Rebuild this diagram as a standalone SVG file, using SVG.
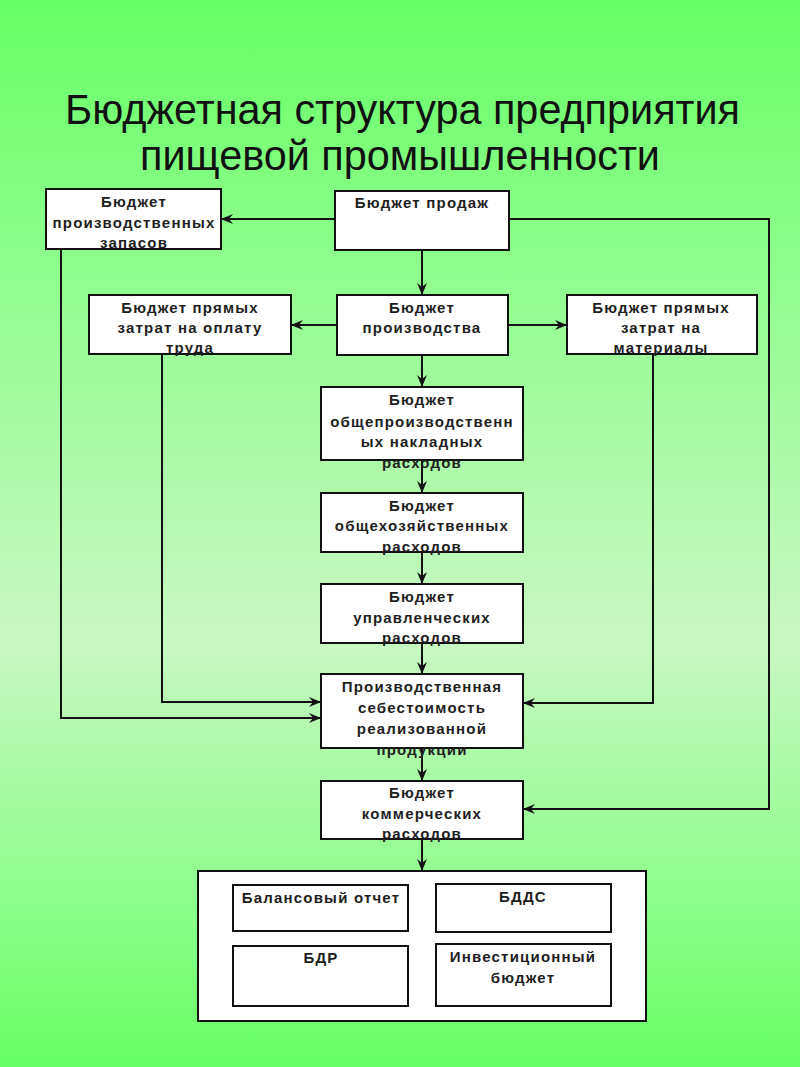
<svg xmlns="http://www.w3.org/2000/svg" width="800" height="1067" viewBox="0 0 800 1067">
  <defs>
    <linearGradient id="bg" x1="0" y1="0" x2="0" y2="1">
      <stop offset="0" stop-color="#66ff66"/>
      <stop offset="0.6" stop-color="#c8f8c2"/>
      <stop offset="1" stop-color="#66ff66"/>
    </linearGradient>
    <marker id="arr" viewBox="0 0 12 10" refX="12" refY="5" markerWidth="12" markerHeight="10" orient="auto" markerUnits="userSpaceOnUse">
      <path d="M0,0 L12,5 L0,10 L4,5 z" fill="#111"/>
    </marker>
  </defs>
  <style>
    .box { fill: #ffffff; stroke: #111111; stroke-width: 2; }
    .lbl { font-family: "Liberation Sans", Arial, sans-serif; font-size: 15px; font-weight: bold; fill: #1e1e1e; text-anchor: middle; letter-spacing: 1.2px; }
    .title { font-family: "Liberation Sans Narrow", "Liberation Sans", Arial, sans-serif; font-size: 42px; fill: #111111; }
    .con { fill: none; stroke: #111111; stroke-width: 2; }
    .arr { marker-end: url(#arr); }
  </style>

  <rect x="0" y="0" width="800" height="1067" fill="url(#bg)"/>

  <g id="title">
    <text class="title" x="65" y="124" textLength="675" lengthAdjust="spacingAndGlyphs">Бюджетная структура предприятия</text>
    <text class="title" x="140" y="170" textLength="520" lengthAdjust="spacingAndGlyphs">пищевой промышленности</text>
  </g>

  <g id="connectors">
    <path class="con arr" d="M335,219 L221,219"/>
    <path class="con arr" d="M422,250 L422,295"/>
    <path class="con arr" d="M509,219 L769,219 L769,809 L523,809"/>
    <path class="con arr" d="M337,325 L291,325"/>
    <path class="con arr" d="M508,325 L567,325"/>
    <path class="con arr" d="M422,355 L422,387"/>
    <path class="con arr" d="M422,460 L422,493"/>
    <path class="con arr" d="M422,552 L422,584"/>
    <path class="con arr" d="M422,643 L422,674"/>
    <path class="con arr" d="M422,748 L422,781"/>
    <path class="con arr" d="M422,839 L422,871"/>
    <path class="con arr" d="M61,249 L61,718 L321,718"/>
    <path class="con arr" d="M162,354 L162,702 L321,702"/>
    <path class="con arr" d="M653,354 L653,703 L523,703"/>
  </g>

  <g id="node-zapasy">
    <rect class="box" x="46" y="189" width="175" height="60"/>
    <text class="lbl" x="134" y="207">Бюджет</text>
    <text class="lbl" x="134" y="228">производственных</text>
    <text class="lbl" x="134" y="248">запасов</text>
  </g>

  <g id="node-prodazhi">
    <rect class="box" x="335" y="191" width="174" height="59"/>
    <text class="lbl" x="422" y="208">Бюджет продаж</text>
  </g>

  <g id="node-trud">
    <rect class="box" x="89" y="295" width="202" height="59"/>
    <text class="lbl" x="190" y="313">Бюджет прямых</text>
    <text class="lbl" x="190" y="333">затрат на оплату</text>
    <text class="lbl" x="190" y="353">труда</text>
  </g>

  <g id="node-proizvodstvo">
    <rect class="box" x="337" y="295" width="171" height="60"/>
    <text class="lbl" x="422" y="313">Бюджет</text>
    <text class="lbl" x="422" y="333">производства</text>
  </g>

  <g id="node-materialy">
    <rect class="box" x="567" y="295" width="190" height="59"/>
    <text class="lbl" x="661" y="313">Бюджет прямых</text>
    <text class="lbl" x="661" y="333">затрат на</text>
    <text class="lbl" x="661" y="353">материалы</text>
  </g>

  <g id="node-nakladnye">
    <rect class="box" x="321" y="387" width="202" height="73"/>
    <text class="lbl" x="422" y="405">Бюджет</text>
    <text class="lbl" x="422" y="427">общепроизводственн</text>
    <text class="lbl" x="422" y="447">ых накладных</text>
    <text class="lbl" x="422" y="468">расходов</text>
  </g>

  <g id="node-obshchekhoz">
    <rect class="box" x="321" y="493" width="202" height="59"/>
    <text class="lbl" x="422" y="511">Бюджет</text>
    <text class="lbl" x="422" y="531">общехозяйственных</text>
    <text class="lbl" x="422" y="552">расходов</text>
  </g>

  <g id="node-upravl">
    <rect class="box" x="321" y="584" width="202" height="59"/>
    <text class="lbl" x="422" y="602">Бюджет</text>
    <text class="lbl" x="422" y="623">управленческих</text>
    <text class="lbl" x="422" y="643">расходов</text>
  </g>

  <g id="node-sebestoimost">
    <rect class="box" x="321" y="674" width="202" height="74"/>
    <text class="lbl" x="422" y="692">Производственная</text>
    <text class="lbl" x="422" y="713">себестоимость</text>
    <text class="lbl" x="422" y="734">реализованной</text>
    <text class="lbl" x="422" y="755">продукции</text>
  </g>

  <g id="node-kommerch">
    <rect class="box" x="321" y="781" width="202" height="58"/>
    <text class="lbl" x="422" y="798">Бюджет</text>
    <text class="lbl" x="422" y="819">коммерческих</text>
    <text class="lbl" x="422" y="839">расходов</text>
  </g>

  <g id="node-itog">
    <rect class="box" x="198" y="871" width="448" height="150"/>
  </g>

  <g id="node-balans">
    <rect class="box" x="233" y="885" width="175" height="46"/>
    <text class="lbl" x="321" y="903">Балансовый отчет</text>
  </g>

  <g id="node-bdds">
    <rect class="box" x="436" y="884" width="175" height="48"/>
    <text class="lbl" x="523" y="902">БДДС</text>
  </g>

  <g id="node-bdr">
    <rect class="box" x="233" y="946" width="175" height="60"/>
    <text class="lbl" x="321" y="963">БДР</text>
  </g>

  <g id="node-invest">
    <rect class="box" x="436" y="944" width="175" height="62"/>
    <text class="lbl" x="523" y="962">Инвестиционный</text>
    <text class="lbl" x="523" y="983">бюджет</text>
  </g>
</svg>
